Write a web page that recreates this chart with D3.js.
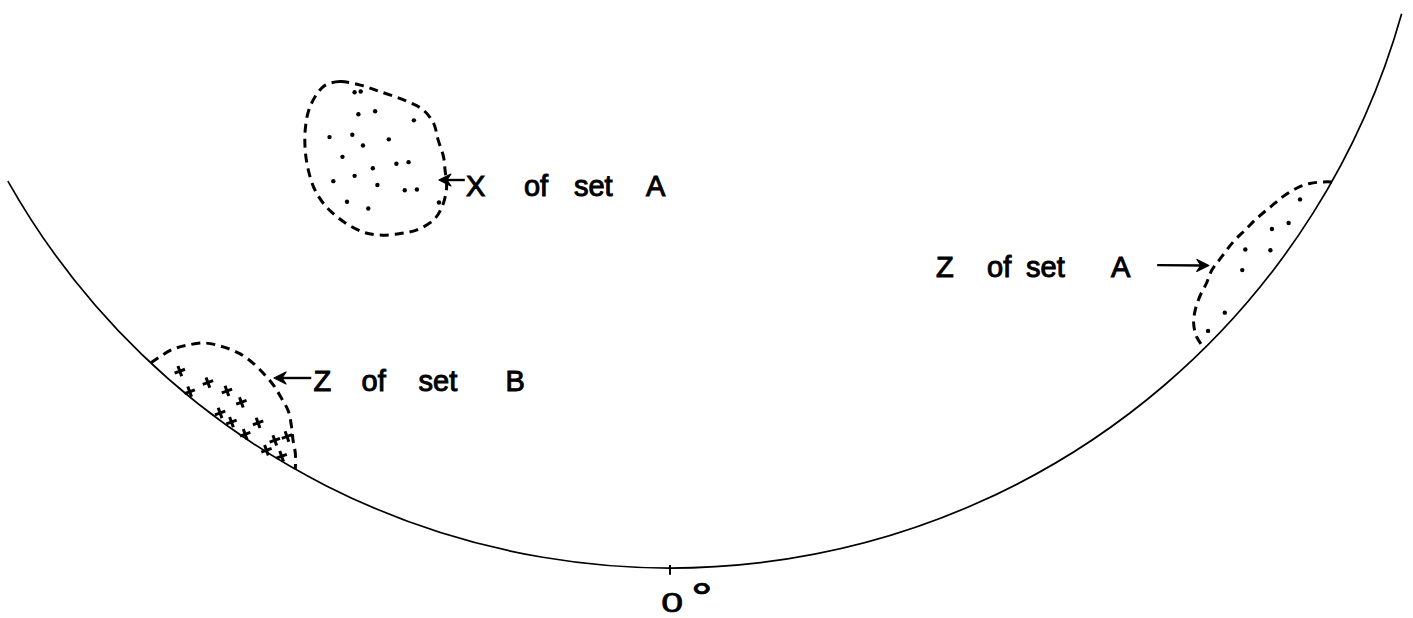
<!DOCTYPE html>
<html>
<head>
<meta charset="utf-8">
<script src="https://cdn.jsdelivr.net/npm/d3@7"></script>
<style>
  html, body { margin: 0; padding: 0; background: #fff; }
  svg { display: block; }
  text { font-family: "Liberation Sans", Arial, sans-serif; fill: #000; }
</style>
</head>
<body>
<svg id="net" width="1413" height="618"></svg>
<script>
// Lower part of an equal-area net of radius 100, 0° at the bottom.
// Coordinates: x to the right, y upwards, net centre at (0, 0).

// visible stretch of the primitive circle (degrees, counter-clockwise from +x)
const primitiveArc = [-150.6, -15.7];
const zeroMark = [0, -100];
const zeroLabel = ["0", "°"];

// X axes of set A (dots) and the contour round them
const xSetA = [
  [-41.5,-37.4],[-40.7,-37.3],[-41.0,-40.3],[-38.8,-39.9],[-33.7,-41.1],
  [-44.8,-43.3],[-41.8,-43.0],[-37.0,-43.6],[-40.4,-44.4],[-43.1,-45.9],
  [-36.0,-46.8],[-34.4,-46.6],[-39.1,-47.4],[-41.5,-48.4],[-44.3,-49.1],
  [-38.5,-49.6],[-34.9,-50.3],[-33.3,-50.2],[-42.5,-51.8],[-39.7,-52.7],
  [-30.4,-51.9]
];
const xSetAContour = [
  [-45.4,-36.5],[-43.4,-36.0],[-40.6,-36.5],[-38.2,-37.3],[-34.6,-38.6],
  [-32.5,-39.7],[-31.1,-41.5],[-30.5,-43.7],[-29.8,-45.9],[-29.6,-47.6],
  [-29.4,-50.0],[-30.0,-52.5],[-31.1,-54.2],[-33.3,-55.5],[-35.5,-56.0],
  [-38.2,-56.2],[-40.4,-55.8],[-43.0,-54.4],[-45.2,-52.5],[-46.7,-50.3],
  [-47.6,-47.6],[-48.0,-45.0],[-48.0,-42.4],[-47.6,-40.0],[-46.7,-38.0]
];

// Z axes of set A (dots)
const zSetA = [
  [82.9,-51.5],[81.4,-54.6],[79.2,-55.4],[75.7,-58.1],
  [79.0,-58.2],[75.3,-60.8],[73.0,-66.4],[70.8,-68.8]
];
const zSetAContour = [
  [87.1,-49.2],[86.0,-49.2],[84.2,-49.4],[82.5,-50.0],[80.7,-51.1],
  [79.0,-52.5],[77.2,-54.0],[75.7,-55.5],[74.1,-57.1],[72.4,-59.3],
  [71.3,-60.8],[70.6,-62.5],[69.7,-64.3],[69.1,-66.1],[68.9,-67.8],
  [69.3,-69.6],[70.3,-71.1]
];

// Z axes of set B (crosses)
const zSetB = [
  [-64.5,-74.1],[-60.8,-75.6],[-63.2,-76.8],[-58.3,-76.7],[-56.4,-78.2],
  [-59.2,-79.6],[-57.7,-80.8],[-54.2,-80.9],[-55.9,-82.4],[-52.0,-83.2],
  [-50.4,-82.7],[-53.1,-84.5],[-51.1,-85.3]
];
const zSetBContour = [
  [-68.3,-73.0],[-65.6,-71.3],[-63.6,-70.7],[-61.2,-70.4],[-58.8,-70.9],
  [-56.6,-71.8],[-54.8,-73.1],[-53.3,-74.6],[-52.2,-75.9],[-51.1,-77.7],
  [-50.2,-79.4],[-49.8,-81.4],[-49.6,-83.2],[-49.3,-84.9],[-49.3,-87.0]
];

const labelWords = [
  ["X", "of", "set", "A"],
  ["Z", "of", "set", "B"],
  ["Z", "of", "set", "A"]
];

// ---- layout ----
const R = 760, CX = 670, CY = -192;

const x = d3.scaleLinear().domain([-100, 100]).range([CX - R, CX + R]);
const y = d3.scaleLinear().domain([-100, 100]).range([CY + R, CY - R]);

const labelLayout = [
  { text: [-26.85, -51.05], tail: [-27.0, -48.95], tip: [-30.4, -48.95], gaps: [0, 58, 108, 180] },
  { text: [-46.9, -76.7],   tail: [-47.2, -75.0],  tip: [-52.1, -75.0],  gaps: [0, 48, 105, 192] },
  { text: [35.0, -61.7],    tail: [64.1, -60.15],  tip: [70.9, -60.2],   gaps: [0, 51, 90, 175] }
];

const svg = d3.select("#net");
const ink = "#000";

// primitive circle
const deg = Math.PI / 180;
const arcPath = d3.path();
arcPath.arc(x(0), y(0), R, -primitiveArc[1] * deg, -primitiveArc[0] * deg, false);
svg.append("path")
  .attr("d", arcPath.toString())
  .attr("fill", "none")
  .attr("stroke", ink)
  .attr("stroke-width", 1.7);

// 0° tick and label
const tickDir = [zeroMark[0] / 100, zeroMark[1] / 100];
svg.append("line")
  .attr("x1", x(tickDir[0] * 99.6)).attr("y1", y(tickDir[1] * 99.6))
  .attr("x2", x(tickDir[0] * 100.9)).attr("y2", y(tickDir[1] * 100.9))
  .attr("stroke", ink).attr("stroke-width", 2);

const zt = svg.append("text")
  .attr("transform", `translate(${x(zeroMark[0]) - 8.7},${y(zeroMark[1]) + 43.5}) scale(1.4,1)`)
  .attr("font-size", 28)
  .attr("stroke", ink).attr("stroke-width", 0.7);
zt.append("tspan").text(zeroLabel[0]);
zt.append("tspan")
  .attr("font-family", "DejaVu Sans")
  .attr("font-size", 35)
  .attr("dx", 4.5)
  .attr("dy", -2.2)
  .text(zeroLabel[1]);

// dashed contours
const openLine = d3.line().x(d => x(d[0])).y(d => y(d[1])).curve(d3.curveCatmullRom.alpha(0.5));
const closedLine = d3.line().x(d => x(d[0])).y(d => y(d[1])).curve(d3.curveCatmullRomClosed.alpha(0.5));

function contour(pts, gen) {
  svg.append("path")
    .attr("d", gen(pts))
    .attr("fill", "none")
    .attr("stroke", ink)
    .attr("stroke-width", 3)
    .attr("stroke-dasharray", "9 6");
}
contour(xSetAContour, closedLine);
contour(zSetAContour, openLine);
contour(zSetBContour, openLine);

// dots
function dots(pts) {
  svg.append("g").selectAll("circle").data(pts).join("circle")
    .attr("cx", d => x(d[0]))
    .attr("cy", d => y(d[1]))
    .attr("r", 2.2)
    .attr("fill", ink);
}
dots(xSetA);
dots(zSetA);

// crosses
svg.append("g").selectAll("path").data(zSetB).join("path")
  .attr("transform", d => `translate(${x(d[0])},${y(d[1])}) rotate(-20)`)
  .attr("d", "M-5.5,0H5.5M0,-5.5V5.5")
  .attr("stroke", ink)
  .attr("stroke-width", 3)
  .attr("fill", "none");

// labels with arrows
labelLayout.forEach((L, i) => {
  const tx = x(L.tail[0]), ty = y(L.tail[1]);
  const px = x(L.tip[0]), py = y(L.tip[1]);
  const len = Math.hypot(px - tx, py - ty);
  const ux = (px - tx) / len, uy = (py - ty) / len;
  const nx = -uy, ny = ux;
  svg.append("line")
    .attr("x1", tx).attr("y1", ty)
    .attr("x2", px - ux * 6).attr("y2", py - uy * 6)
    .attr("stroke", ink).attr("stroke-width", 2.4);
  const head = d3.path();
  head.moveTo(px, py);
  head.lineTo(px - ux * 12 + nx * 6, py - uy * 12 + ny * 6);
  head.lineTo(px - ux * 8, py - uy * 8);
  head.lineTo(px - ux * 12 - nx * 6, py - uy * 12 - ny * 6);
  head.closePath();
  svg.append("path").attr("d", head.toString()).attr("fill", ink)
    .attr("stroke", ink).attr("stroke-width", 1.2).attr("stroke-linejoin", "round");

  const t = svg.append("text")
    .attr("x", x(L.text[0]))
    .attr("y", y(L.text[1]))
    .attr("font-size", 29)
    .attr("stroke", ink)
    .attr("stroke-width", 1);
  labelWords[i].forEach((w, k) => {
    t.append("tspan").attr("x", x(L.text[0]) + L.gaps[k]).text(w);
  });
});
</script>
</body>
</html>
